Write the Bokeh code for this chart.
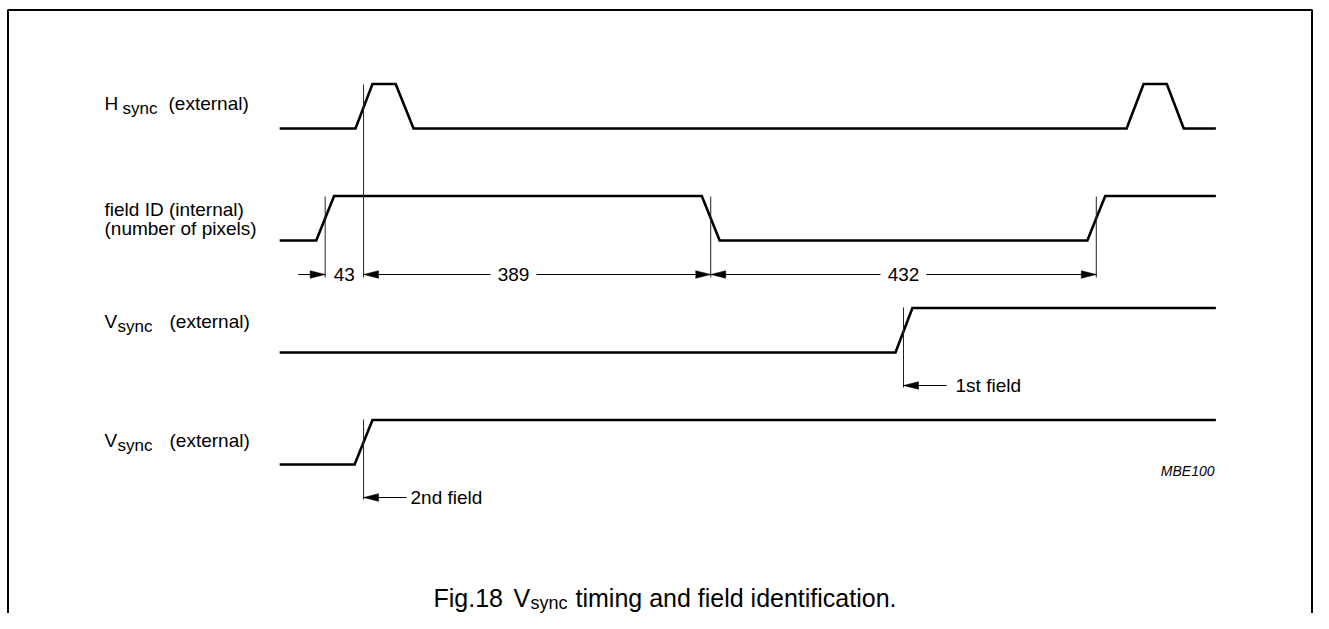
from bokeh.plotting import figure
from bokeh.models import Range1d, Label
from bokeh.embed import file_html
from bokeh.resources import INLINE

# ---------------- data (time in pixel clocks) ----------------
HSYNC_T = [-51, 34, 53, 79, 99, 898, 917, 943, 962, 998]
HSYNC_LVL = [0, 0, 1, 1, 0, 0, 1, 1, 0, 0]
FIELD_T = [-51, -10, 10, 422, 442, 854, 874, 998]
FIELD_LVL = [0, 0, 1, 1, 0, 0, 1, 1]
VSYNC1_T = [-51, 639, 658, 998]
VSYNC1_LVL = [0, 0, 1, 1]
VSYNC2_T = [-51, 33, 53, 998]
VSYNC2_LVL = [0, 0, 1, 1]

DIM_T = [0, 43, 432, 864]          # field ID / H sync reference instants
FIELD_MARK_LABELS = ["1st field", "2nd field"]
FIELD_MARK_T = [648, 43]

FONT = "Liberation Sans"

# ---------------- layout helpers ----------------
W, H = 1313, 613
X0 = 324.67      # screen x of t = 0
S = 0.8925       # px per clock


def tx(px):
    return (px - X0) / S


def mid(baseline, size):
    # convert an alphabetic baseline to the em-box middle
    return baseline - 0.35 * size


p = figure(width=W, height=H, output_backend="svg", toolbar_location=None,
           x_range=Range1d(tx(0), tx(W)), y_range=Range1d(H, 0),
           x_axis_type=None, y_axis_type=None, min_border=0,
           outline_line_color=None, background_fill_color="white",
           border_fill_color="white")
p.grid.visible = False

# frame (left, top, right)
p.line([tx(7.5), tx(7.5), tx(W - 1.5), tx(W - 1.5)], [640, 9.5, 9.5, 640],
       line_color="black", line_width=2)

# ---------------- waveforms ----------------
AMP = 44.5
rows = [(HSYNC_T, HSYNC_LVL, 128), (FIELD_T, FIELD_LVL, 240),
        (VSYNC1_T, VSYNC1_LVL, 352), (VSYNC2_T, VSYNC2_LVL, 464)]
for ts, lv, base in rows:
    p.line(ts, [base - AMP * v for v in lv], line_color="black",
           line_width=2.6, line_join="miter")

# ---------------- dimension lines ----------------
ARROW_Y = 274
HEAD_L = 15 / S
HEAD_W = 3.8
THIN = "#222222"

# vertical reference lines
p.segment(x0=[DIM_T[1]], y0=[84], x1=[DIM_T[1]], y1=[277], line_color=THIN, line_width=1)
for t in [DIM_T[0], DIM_T[2], DIM_T[3]]:
    p.segment(x0=[t], y0=[196], x1=[t], y1=[277], line_color=THIN, line_width=1)

heads_x, heads_y = [], []


def head(t, y, direction):
    # direction +1: points right (tip at t), -1: points left
    heads_x.append([t, t - direction * HEAD_L, t - direction * HEAD_L])
    heads_y.append([y, y - HEAD_W, y + HEAD_W])


def shaft(t0, t1, y):
    p.segment(x0=[t0], y0=[y], x1=[t1], y1=[y], line_color="black", line_width=1)


def tlabel(x, baseline, text, size=19, style="normal", align="left"):
    p.add_layout(Label(x=x, y=mid(baseline, size), text=text, text_align=align,
                       text_baseline="middle", text_font=FONT, text_color="black",
                       text_font_size=f"{size}px", text_font_style=style))


GAP = 23 / S
# 43: outside arrows
shaft(DIM_T[0] - 27 / S, DIM_T[0], ARROW_Y)
head(DIM_T[0], ARROW_Y, +1)
head(DIM_T[1], ARROW_Y, -1)
tlabel((DIM_T[0] + DIM_T[1]) / 2, 281, str(DIM_T[1] - DIM_T[0]), align="center")
# 389
c389 = tx(513)
shaft(DIM_T[1], c389 - GAP, ARROW_Y)
shaft(c389 + GAP, DIM_T[2], ARROW_Y)
head(DIM_T[2], ARROW_Y, +1)
tlabel(c389, 281, str(DIM_T[2] - DIM_T[1]), align="center")
# 432
c432 = (DIM_T[2] + DIM_T[3]) / 2
head(DIM_T[2], ARROW_Y, -1)
shaft(DIM_T[2], c432 - GAP, ARROW_Y)
shaft(c432 + GAP, DIM_T[3], ARROW_Y)
head(DIM_T[3], ARROW_Y, +1)
tlabel(c432, 281, str(DIM_T[3] - DIM_T[2]), align="center")

# field identification markers
mark_rows = [(307, 385, 392, 52), (419, 497, 503.5, 47)]
for lab, t, (ytop, ya, yb, toff) in zip(FIELD_MARK_LABELS, FIELD_MARK_T, mark_rows):
    p.segment(x0=[t], y0=[ytop], x1=[t], y1=[ya + 2], line_color=THIN, line_width=1)
    head(t, ya, -1)
    shaft(t, t + 43 / S, ya)
    tlabel(t + toff / S, yb, lab)

p.patches(heads_x, heads_y, fill_color="black", line_color="black", line_width=0.5)

# ---------------- text labels ----------------


def lab(px, baseline, text, size=19, style="normal", align="left"):
    tlabel(tx(px), baseline, text, size, style, align)


lab(104, 110, "H")
lab(122, 114, "sync", 17)
lab(168, 110, "(external)")

lab(104, 216, "field ID (internal)")
lab(104, 235, "(number of pixels)")

lab(104, 328, "V")
lab(117, 332, "sync", 17)
lab(169, 328, "(external)")

lab(104, 447, "V")
lab(117, 451, "sync", 17)
lab(169, 447, "(external)")

lab(1214, 475, "MBE100", 14, "italic", "right")

lab(433, 606, "Fig.18", 25)
lab(513, 606, "V", 25)
lab(530, 609, "sync", 18)
lab(575, 606, "timing and field identification.", 25)

open("out.html", "w").write(file_html(p, INLINE))
